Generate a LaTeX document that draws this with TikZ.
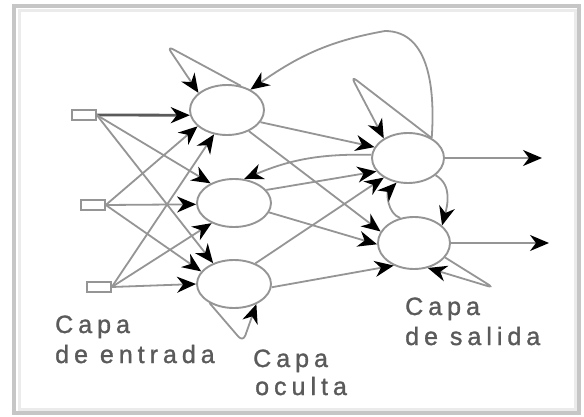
\documentclass[tikz,border=0pt]{standalone}
\usepackage{fontspec}
\newfontfamily\lblfont[LetterSpace=20,FakeBold=1.2]{Liberation Sans}
\usetikzlibrary{arrows.meta,shapes.geometric}
\definecolor{ln}{HTML}{959595}
\definecolor{txt}{HTML}{5A5A5A}
\definecolor{frameA}{HTML}{C6C6C6}
\definecolor{frameB}{HTML}{EBEBEB}
\begin{document}
\begin{tikzpicture}[x=1pt,y=-1pt,
  neuron/.style={draw=ln, line width=1.9pt, ellipse, minimum width=74pt, minimum height=50pt, inner sep=0pt},
  inbox/.style={draw=ln, fill=white, line width=1.5pt, rectangle, minimum width=24pt, minimum height=10pt, inner sep=0pt},
  conn/.style={draw=ln, line width=1.8pt, -{Stealth[length=19pt,width=16pt,inset=6pt,color=black]}},
  lbl/.style={font=\lblfont\fontsize{25}{25}\selectfont, text=txt, anchor=base west, inner sep=0pt}]
\useasboundingbox (0,0) rectangle (584,417);
\fill[white] (0,0) rectangle (584,417);
\draw[frameA, line width=4pt] (14,6) rectangle (579,413);
\draw[frameB, line width=3pt] (19,10.5) rectangle (575.5,409.5);

% nodes
\node[inbox] (in1) at (84,115) {};
\node[inbox] (in2) at (93,205) {};
\node[inbox] (in3) at (99,287) {};
\node[neuron] (h1) at (227,110) {};
\node[neuron, minimum height=48pt] (h2) at (234,203) {};
\node[neuron, minimum height=48pt] (h3) at (234,284) {};
\node[neuron, minimum width=72pt] (o1) at (408,158) {};
\node[neuron, minimum width=72pt, minimum height=52pt] (o2) at (414,243) {};

\coordinate (ha) at (167,46);
\coordinate (hb) at (243,342);
\coordinate (oa) at (351,76);
\coordinate (ob) at (494,288);
\coordinate (bt) at (385,31);
\coordinate (e1) at (542,158);
\coordinate (e2) at (549,243);

% input -> hidden
\draw[conn, draw=txt, line width=2.8pt] (in1.east) -- (h1.188);
\draw[conn] (in1.east) -- (h2.140);
\draw[conn] (in1.east) -- (h3.135);
\draw[conn] (in2.east) -- (h1.209);
\draw[conn] (in2.east) -- (h2.182);
\draw[conn] (in2.east) -- (h3.159);
\draw[conn] (in3.east) -- (h1.242);
\draw[conn] (in3.east) -- (h2.222);
\draw[conn] (in3.east) -- (h3.180);

% hidden -> output
\draw[conn] (h1.340) -- (o1.162);
\draw[conn] (h1.316) -- (o2.161);
\draw[conn] (h2.22) -- (o1.203);
\draw[conn] (h2.345) -- (o2.182);
\draw[conn] (h3.44) -- (o1.219);
\draw[conn] (h3.355) -- (o2.228);

% feedback
\draw[conn] (o1.175) to[bend right=12] (h2.67);
\draw[conn] (o1.40) to[out=86,in=0] (bt) to[out=190,in=35] (h1.41);
\draw[conn] (o1.328) to[out=-30,in=75] (o2.32);
\draw[conn] (o2.119) to[out=160,in=225] (o1.245);

% self loops
\draw[conn, rounded corners=7pt] (h1.60) -- (ha) -- (h1.149);
\draw[conn, rounded corners=7pt] (h3.218) -- (hb) -- (h3.318);
\draw[conn, rounded corners=7pt] (o1.40) -- (oa) -- (o1.141);
\draw[conn, rounded corners=7pt] (o2.335) -- (ob) -- (o2.299);

% outputs
\draw[conn] (o1.east) -- (e1);
\draw[conn] (o2.east) -- (e2);

% labels
\node[lbl] (t1) at (55,333) {Capa};
\node[lbl] (t2) at (55,363) {de entrada};
\node[lbl] (t3) at (253,367) {Capa};
\node[lbl] (t4) at (255,395) {oculta};
\node[lbl] (t5) at (405,315) {Capa};
\node[lbl] (t6) at (405,345) {de salida};
\end{tikzpicture}
\end{document}
